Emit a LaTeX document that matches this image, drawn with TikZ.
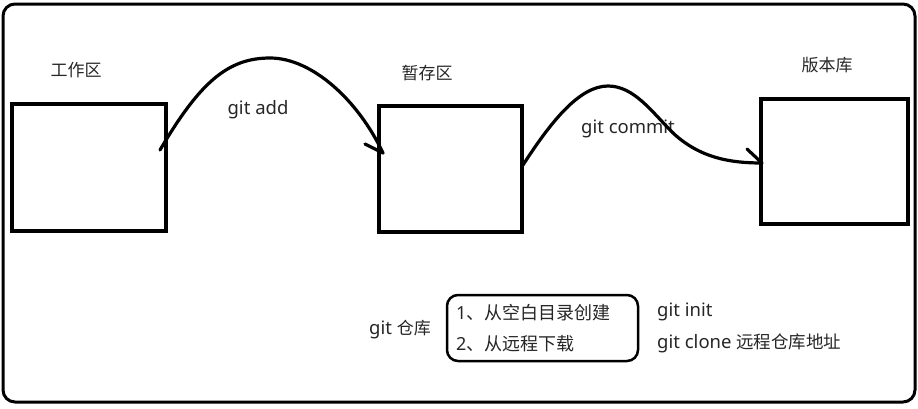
\documentclass[tikz,border=0pt]{standalone}
\usepackage{fontspec}
\setmainfont{Noto Sans}
\newfontfamily\cjk{Noto Sans CJK SC}
\begin{document}
\begin{tikzpicture}[x=1pt,y=-1pt,
  txt/.style={inner sep=0pt,text=black!85,font=\fontsize{17}{20}\selectfont},
  lat/.style={inner sep=0pt,text=black!85,font=\fontsize{18.5}{22}\selectfont},
  bigtxt/.style={inner sep=0pt,text=black!85,font=\fontsize{18}{22}\selectfont},
  box/.style={draw,line width=3.5pt,inner sep=0pt,outer sep=0pt},
  stroke/.style={line width=3.2pt,line cap=round,line join=round}]
\useasboundingbox (0,0) rectangle (918,408);
\draw[line width=3pt,rounded corners=12pt] (3,4) rectangle (915,402);
% boxes
\node[box,minimum width=154pt,minimum height=127pt] (work) at (89,167.5) {};
\node[box,minimum width=143pt,minimum height=126pt] (stage) at (450.5,169) {};
\node[box,minimum width=147pt,minimum height=125pt] (repo) at (834.5,161.5) {};
% labels
\node[txt] (lwork) at (76,70) {\cjk 工作区};
\node[txt] (lstage) at (427,73) {\cjk 暂存区};
\node[txt] (lrepo) at (827,65) {\cjk 版本库};
\node[lat] (ladd) at (258,110) {git add};
\node[lat] (lcommit) at (628,129) {git commit};
% arrows
\coordinate (a1s) at (160,150);
\coordinate (a1e) at (383,153);
\coordinate (a1b) at (365,144);
\draw[stroke] (a1s) .. controls (200,82) and (228,58) .. (270,58)
  .. controls (312,58) and (358,100) .. (a1e);
\draw[stroke] (a1b) -- (a1e);
\coordinate (a2s) at (523,165);
\coordinate (a2e) at (762,163);
\coordinate (a2b) at (747,149);
\draw[stroke] (a2s) .. controls (552,120) and (580,86) .. (608,86)
  .. controls (634,86) and (652,112) .. (673,133)
  .. controls (700,158) and (730,163) .. (a2e);
\draw[stroke] (a2b) -- (a2e);
% bottom
\node[lat] (lgit) at (400,330) {git {\cjk\fontsize{17}{20}\selectfont 仓库}};
\node[draw,line width=2.5pt,rounded corners=11pt,minimum width=191pt,minimum height=66pt,inner sep=0pt] (ways) at (542.5,328) {};
\node[bigtxt,anchor=west] (w1) at (456,313) {1{\cjk 、从空白目录创建}};
\node[bigtxt,anchor=west] (w2) at (456,344) {2{\cjk 、从远程下载}};
\node[lat,anchor=west] (c1) at (657,312) {git init};
\node[lat,anchor=west] (c2) at (657,343) {git clone {\cjk\fontsize{17.5}{20}\selectfont 远程仓库地址}};
\end{tikzpicture}
\end{document}
